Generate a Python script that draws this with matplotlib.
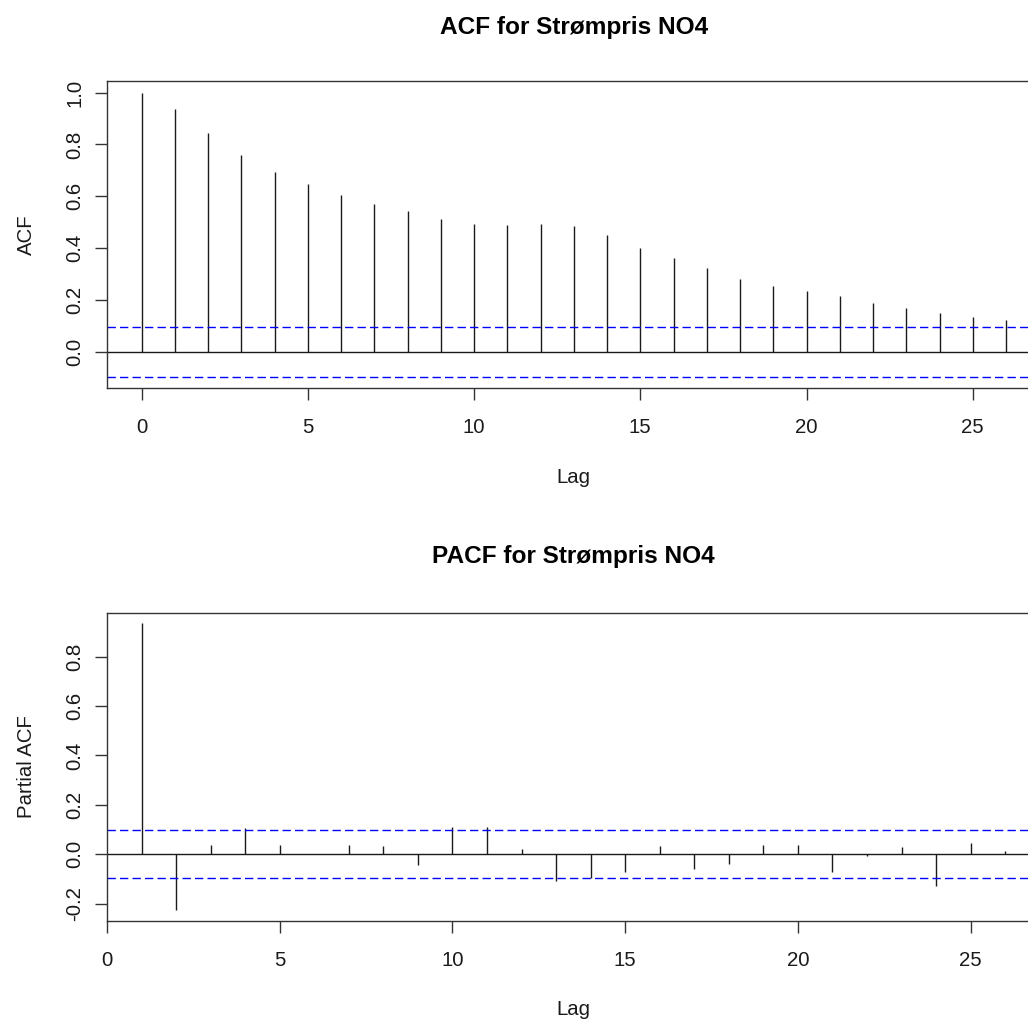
import matplotlib.pyplot as plt

# values (Strømpris NO4)
acf_lags = list(range(27))
acf_vals = [1.0, 0.936, 0.843, 0.758, 0.695, 0.646, 0.606, 0.571, 0.542,
            0.512, 0.493, 0.489, 0.493, 0.484, 0.449, 0.399, 0.361, 0.322,
            0.282, 0.252, 0.233, 0.214, 0.188, 0.169, 0.149, 0.135, 0.121]

pacf_lags = list(range(1, 27))
pacf_vals = [0.935, -0.224, 0.038, 0.105, 0.038, 0.0, 0.038, 0.032, -0.043,
             0.109, 0.109, 0.023, -0.107, -0.097, -0.070, 0.032, -0.060,
             -0.039, 0.038, 0.038, -0.070, -0.008, 0.028, -0.127, 0.047, 0.012]

ci = 0.097

plt.rcParams['font.family'] = ['Liberation Sans', 'DejaVu Sans']

W, H = 1028, 1021
fig = plt.figure(figsize=(W / 100, H / 100), dpi=100)

ax1 = fig.add_axes([107 / W, 1 - 388 / H, 933.6 / W, 307 / H])
ax2 = fig.add_axes([107 / W, 1 - 920.7 / H, 932.7 / W, 308 / H])


def style(ax, lags, vals, title, ylabel, yticks, xlim, ylim, title_pad):
    ax.vlines(lags, 0, vals, color='#1a1a1a', lw=1.0)
    ax.axhline(0, color='#1a1a1a', lw=1.0)
    ax.axhline(ci, color='#0000ff', lw=1.0, ls=(0, (6, 3)))
    ax.axhline(-ci, color='#0000ff', lw=1.0, ls=(0, (6, 3)))
    ax.set_xlim(*xlim)
    ax.set_ylim(*ylim)
    ax.set_xticks([0, 5, 10, 15, 20, 25])
    ax.set_yticks(yticks)
    ax.set_yticklabels([f'{t:.1f}' for t in yticks])
    for s in ax.spines.values():
        s.set_color('#333333')
        s.set_linewidth(1.0)
    ax.tick_params(axis='both', length=8.5, width=1.0, color='#333333',
                   labelsize=14.7, labelcolor='#1a1a1a')
    ax.tick_params(axis='x', pad=24)
    ax.tick_params(axis='y', pad=10.8)
    for lab in ax.get_xticklabels():
        lab.set_va('baseline')
    for lab in ax.get_yticklabels():
        lab.set_rotation(90)
        lab.set_rotation_mode('anchor')
        lab.set_ha('center')
        lab.set_va('baseline')
    ax.set_title(title, fontsize=17.6, fontweight='bold', pad=title_pad)
    ax.set_xlabel('Lag', fontsize=14.7, va='baseline', color='#1a1a1a')
    ax.set_ylabel(ylabel, fontsize=14.7, va='baseline', color='#1a1a1a')


style(ax1, acf_lags, acf_vals, 'ACF for Strømpris NO4', 'ACF',
      [0.0, 0.2, 0.4, 0.6, 0.8, 1.0], (-1.04, 27.04), (-0.14, 1.045), 33.8)
ax1.xaxis.set_label_coords(0.5, (388 - 483.3) / 307)
ax1.yaxis.set_label_coords((32 - 107) / 933.6, 0.5)

style(ax2, pacf_lags, pacf_vals, 'PACF for Strømpris NO4', 'Partial ACF',
      [-0.2, 0.0, 0.2, 0.4, 0.6, 0.8], (0, 27), (-0.269, 0.978), 35.8)
ax2.xaxis.set_label_coords(0.5, (920.7 - 1015) / 308)
ax2.yaxis.set_label_coords((32 - 107) / 932.7, 0.5)

fig.savefig('out.png', dpi=100)
